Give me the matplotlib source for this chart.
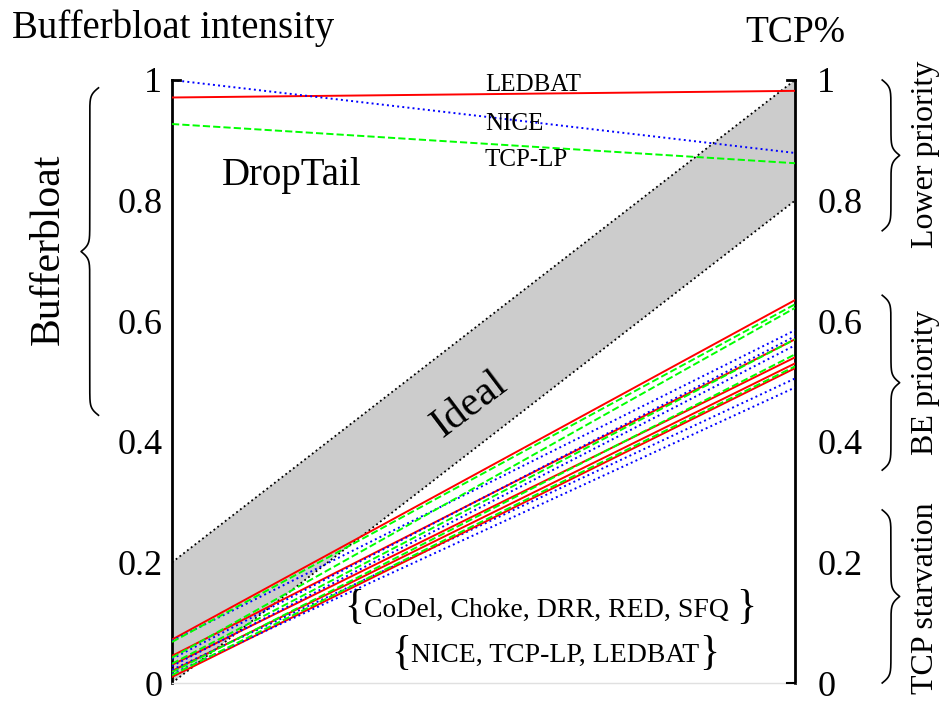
import numpy as np
import matplotlib
matplotlib.use('Agg')
import matplotlib.pyplot as plt

plt.rcParams['font.family'] = ['Liberation Serif', 'DejaVu Serif']

## data: [left = bufferbloat intensity, right = TCP%]
aqm = ['CoDel', 'Choke', 'DRR', 'RED', 'SFQ']
ledbat_bb = [0.072, 0.045, 0.030, 0.020, 0.010]
ledbat_tcp = [0.635, 0.570, 0.540, 0.530, 0.522]
nice_bb = [0.070, 0.040, 0.028, 0.022, 0.015]
nice_tcp = [0.585, 0.575, 0.560, 0.505, 0.490]
tcplp_bb = [0.068, 0.042, 0.032, 0.018, 0.013]
tcplp_tcp = [0.628, 0.622, 0.570, 0.545, 0.525]

## DropTail
dt_ledbat = [0.971, 0.982]
dt_nice = [1.000, 0.879]
dt_tcplp = [0.927, 0.862]

## ideal region
ideal_left = [0.0, 0.2]
ideal_right = [0.8, 1.0]

yticks = [0, 0.2, 0.4, 0.6, 0.8, 1]
yticklabels = ['0', '0.2', '0.4', '0.6', '0.8', '1']

fig = plt.figure(figsize=(9.43, 7.13), dpi=100)
ax = fig.add_axes([172/943, 30/713, 623/943, 603/713])
ax.set_xlim(0, 1)
ax.set_ylim(0, 1)

## ideal band
ax.fill([0, 0, 1, 1], [ideal_left[0], ideal_left[1], ideal_right[1], ideal_right[0]],
        color='#cccccc', lw=0, zorder=1)
ax.plot([0, 1], [ideal_left[0], ideal_right[0]], color='k', ls=':', lw=1.3, zorder=2)
ax.plot([0, 1], [ideal_left[1], ideal_right[1]], color='k', ls=':', lw=1.3, zorder=2)

## lines
for i in range(len(aqm)):
    ax.plot([0, 1], [ledbat_bb[i], ledbat_tcp[i]], color='#ff0000', ls='-', lw=1.4, zorder=3)
    ax.plot([0, 1], [nice_bb[i], nice_tcp[i]], color='#0000ff', ls=':', lw=1.4, zorder=3)
    ax.plot([0, 1], [tcplp_bb[i], tcplp_tcp[i]], color='#00ff00', ls='--', lw=1.4, zorder=3)
ax.plot([0, 1], dt_ledbat, color='#ff0000', ls='-', lw=1.4, zorder=3)
ax.plot([0, 1], dt_nice, color='#0000ff', ls=':', lw=1.4, zorder=3)
ax.plot([0, 1], dt_tcplp, color='#00ff00', ls='--', lw=1.4, zorder=3)

## axes styling
ax.spines['top'].set_visible(False)
ax.spines['bottom'].set_color('#e0e0e0')
ax.spines['bottom'].set_linewidth(1)
ax.spines['left'].set_linewidth(2)
ax.spines['right'].set_linewidth(2)
ax.set_xticks([])
ax.set_yticks(yticks)
ax.set_yticklabels(yticklabels, fontsize=26)
ax.tick_params(axis='y', length=0, pad=7)
## end stubs
ax.plot([0, 0.013], [1, 1], color='k', lw=2, clip_on=False, zorder=4)
ax.plot([0.987, 1], [1, 1], color='k', lw=2, clip_on=False, zorder=4)
ax.plot([0.987, 1], [0, 0], color='k', lw=1.5, clip_on=False, zorder=4)

ax2 = ax.twinx()
ax2.set_ylim(0, 1)
ax2.set_yticks(yticks)
ax2.set_yticklabels(yticklabels, fontsize=26)
ax2.tick_params(axis='y', length=0, pad=16)
for s in ax2.spines.values():
    s.set_visible(False)


def brace(x, y0, y1, w):
    # vertical curly brace, tip points to the sign of w
    n = 401
    t = np.linspace(y0, y1, n)
    half = t[:n//2+1]
    beta = 170.0
    s = (1/(1+np.exp(-beta*(half-half[0]))) + 1/(1+np.exp(-beta*(half-half[-1])))) - 0.5
    s = np.concatenate((s, s[-2::-1]))
    ax.plot(x + w*s, t, color='k', lw=1.2, clip_on=False)


brace(-0.118, 0.444, 0.987, -0.028)
brace(1.14, 0.75, 1.0, 0.028)
brace(1.14, 0.353, 0.643, 0.028)
brace(1.14, 0.0, 0.287, 0.028)

## texts
fig.text(12/943, 1-28/713, 'Bufferbloat intensity', fontsize=28, ha='left', va='center')
fig.text(795/943, 1-33/713, 'TCP%', fontsize=27, ha='center', va='center')
ax.text(0.08, 0.842, 'DropTail', fontsize=28, ha='left', va='center')
ax.text(0.502, 0.992, 'LEDBAT', fontsize=18, ha='left', va='center')
ax.text(0.502, 0.927, 'NICE', fontsize=18, ha='left', va='center')
ax.text(0.502, 0.867, 'TCP-LP', fontsize=18, ha='left', va='center')
ax.text(0.478, 0.461, 'Ideal', fontsize=30, ha='center', va='center', rotation=37)
ax.text(-0.199, 0.72, 'Bufferbloat', fontsize=30, ha='center', va='center', rotation=90)
ax.text(1.209, 0.876, 'Lower priority', fontsize=23, ha='center', va='center', rotation=90)
ax.text(1.209, 0.499, 'BE priority', fontsize=23, ha='center', va='center', rotation=90)
ax.text(1.209, 0.141, 'TCP starvation', fontsize=23, ha='center', va='center', rotation=90)

## groups with large braces
groups = [(0.607, 0.121, 'CoDel, Choke, DRR, RED, SFQ '), (0.615, 0.046, 'NICE, TCP-LP, LEDBAT')]
fig.canvas.draw()
r = fig.canvas.get_renderer()
for gx, gy, lab in groups:
    t = ax.text(gx, gy, lab, fontsize=20, ha='center', va='center')
    bb = t.get_window_extent(renderer=r).transformed(ax.transData.inverted())
    ax.text(bb.x0, gy + 0.003, '{', fontsize=30, ha='right', va='center')
    ax.text(bb.x1, gy + 0.003, '}', fontsize=30, ha='left', va='center')

fig.savefig('out.png', dpi=100)
